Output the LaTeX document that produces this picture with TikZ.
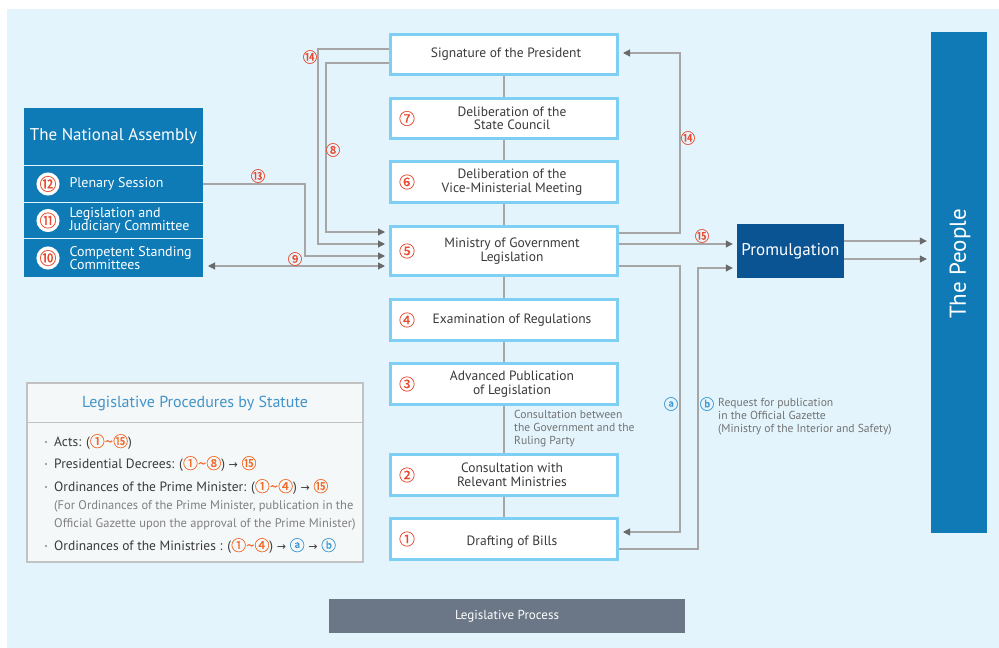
\documentclass[tikz,border=0pt]{standalone}
\usepackage{fontspec}
\setmainfont{PT Sans}
\newfontfamily\circfont[FakeBold=0.3]{Noto Sans CJK KR}
\newfontfamily\symfont{DejaVu Sans}
\usetikzlibrary{arrows.meta}
\definecolor{bgblue}{HTML}{E3F4FC}
\definecolor{boxline}{HTML}{7DCFF3}
\definecolor{textgray}{HTML}{3A3A3A}
\definecolor{numred}{HTML}{E84A2F}
\definecolor{orng}{HTML}{F26B2A}
\definecolor{linkgray}{HTML}{A6A6A6}
\definecolor{tipgray}{HTML}{6A6A6A}
\definecolor{nablue}{HTML}{0E7BB7}
\definecolor{promblue}{HTML}{0B5494}
\definecolor{peopleblue}{HTML}{0F7AB6}
\definecolor{legline}{HTML}{C2C2C2}
\definecolor{legfill}{HTML}{F5F8F9}
\definecolor{leghead}{HTML}{4194CA}
\definecolor{abblue}{HTML}{3D97CE}
\definecolor{barslate}{HTML}{6B7787}
\newcommand{\cnum}[1]{{\circfont\fontsize{15}{14}\selectfont #1}}
\newcommand{\toarr}{{\symfont\fontsize{11}{11}\selectfont →}}
\tikzset{
  stepbox/.style={draw=boxline, line width=3pt, fill=white, minimum width=227pt, inner sep=0pt},
  steptext/.style={font=\fontsize{13.5}{13.5}\selectfont, align=center, text=textgray},
  stepnum/.style={font=\circfont\fontsize{16}{16}\selectfont, text=numred},
  link/.style={draw=linkgray, line width=1.1pt},
  linkarr/.style={link, -{Triangle[length=7pt,width=7pt,color=tipgray]}, shorten >=4pt},
  linkboth/.style={link, {Triangle[length=7pt,width=7pt,color=tipgray]}-{Triangle[length=7pt,width=7pt,color=tipgray]}, shorten >=4pt, shorten <=5pt},
  flowlabel/.style={font=\circfont\fontsize{14.5}{14.5}\selectfont, text=numred, inner sep=0pt},
  narow/.style={fill=nablue, minimum width=179pt, inner sep=0pt, outer sep=0pt},
  nacirc/.style={circle, fill=white, inner sep=0pt, minimum size=18pt, text=numred, font=\circfont\fontsize{17}{17}\selectfont},
  natext/.style={anchor=west, text=white, align=left, font=\fontsize{14}{13.5}\selectfont},
  legtext/.style={anchor=west, text=textgray, inner sep=0pt, font=\fontsize{13.5}{14}\selectfont},
  legnote/.style={anchor=west, text=gray, inner sep=0pt, font=\fontsize{12.5}{13}\selectfont},
  legbullet/.style={fill=gray!70, minimum size=2.5pt, inner sep=0pt},
  sidenote/.style={anchor=west, text=gray!90!black, align=left, inner sep=0pt, font=\fontsize{11.6}{13}\selectfont}
}
\begin{document}
\begin{tikzpicture}[x=1pt,y=-1pt]
  \useasboundingbox (0,0) rectangle (999,648);
  \fill[bgblue] (7,9) rectangle (999,648);

  % process boxes
  \node[stepbox, minimum height=40pt] (sig) at (504,54.5) {};
  \node[stepbox, minimum height=40pt] (b7) at (504,118.5) {};
  \node[stepbox, minimum height=41pt] (b6) at (504,182) {};
  \node[stepbox, minimum height=49pt] (b5) at (504,251) {};
  \node[stepbox, minimum height=41pt] (b4) at (504,320) {};
  \node[stepbox, minimum height=41pt] (b3) at (504,384) {};
  \node[stepbox, minimum height=41pt] (b2) at (504,475) {};
  \node[stepbox, minimum height=41pt] (b1) at (504,539) {};
  \foreach \a/\b in {sig/b7,b7/b6,b6/b5,b5/b4,b4/b3,b3/b2,b2/b1}
    \draw[link] (\a.south) -- (\b.north);

  \node[steptext] (tsig) at (506,54.5) {Signature of the President};
  \node[steptext] (t7) at (512,118.5) {Deliberation of the\\State Council};
  \node[steptext] (t6) at (512,182) {Deliberation of the\\Vice-Ministerial Meeting};
  \node[steptext] (t5) at (512,251) {Ministry of Government\\Legislation};
  \node[steptext] (t4) at (512,320) {Examination of Regulations};
  \node[steptext] (t3) at (512,384) {Advanced Publication\\of Legislation};
  \node[steptext] (t2) at (512,475) {Consultation with\\Relevant Ministries};
  \node[steptext] (t1) at (512,542) {Drafting of Bills};
  \node[stepnum] (n7) at (407,118.5) {⑦};
  \node[stepnum] (n6) at (407,182) {⑥};
  \node[stepnum] (n5) at (407,251) {⑤};
  \node[stepnum] (n4) at (407,320) {④};
  \node[stepnum] (n3) at (407,384) {③};
  \node[stepnum] (n2) at (407,475) {②};
  \node[stepnum] (n1) at (407,539) {①};

  \node[sidenote] (govparty) at (514,429) {Consultation between\\the Government and the\\Ruling Party};

  % the national assembly
  \node[narow, minimum height=57pt, text=white, font=\fontsize{17}{17}\selectfont] (na) at (113.5,136.5) {The National Assembly};
  \node[narow, minimum height=36pt] (plen) at (113.5,184) {};
  \node[narow, minimum height=35pt] (legis) at (113.5,220.5) {};
  \node[narow, minimum height=38pt] (comp) at (113.5,258) {};
  \node[nacirc] (c12) at (48,184) {⑫};
  \node[nacirc] (c11) at (48,220.5) {⑪};
  \node[nacirc] (c10) at (48,258) {⑩};
  \node[natext] (tplen) at (66,184) {Plenary Session};
  \node[natext] (tlegis) at (66,220.5) {Legislation and\\Judiciary Committee};
  \node[natext] (tcomp) at (66,258) {Competent Standing\\Committees};

  % promulgation and the people
  \node[fill=promblue, minimum width=107pt, minimum height=54pt, inner sep=0pt, text=white, font=\fontsize{17}{17}\selectfont] (prom) at (790.5,251) {Promulgation};
  \node[fill=peopleblue, minimum width=56pt, minimum height=501pt, inner sep=0pt] (people) at (959,282.5) {};
  \node[rotate=90, text=white, font=\fontsize{23}{23}\selectfont] (tpeople) at (960,264) {The People};

  % connectors, left
  \coordinate (l14) at (318,49);
  \coordinate (l8) at (326,63);
  \coordinate (l13) at (305,184);
  \draw[linkarr] (sig.west |- l14) -- (l14) |- (b5.west |- 0,244);
  \draw[linkarr] (sig.west |- l8) -- (l8) |- (b5.west |- 0,232);
  \draw[linkarr] (plen.east |- l13) -- (l13) |- (b5.west |- 0,256);
  \draw[linkboth] (comp.east |- 0,266) -- (b5.west |- 0,266);
  \node[flowlabel] (f14l) at (310,57) {⑭};
  \node[flowlabel] (f8) at (333,150) {⑧};
  \node[flowlabel] (f13) at (258,176) {⑬};
  \node[flowlabel] (f9) at (295,259) {⑨};

  % connectors, right
  \coordinate (r14) at (680,53);
  \coordinate (ra) at (680,266);
  \coordinate (rb) at (698,549);
  \draw[linkarr] (b5.east |- 0,233) -| (r14) -- (sig.east |- r14);
  \draw[linkarr] (b5.east |- 0,244) -- (prom.west |- 0,244);
  \draw[linkarr] (b5.east |- ra) -- (ra) |- (b1.east |- 0,532);
  \draw[linkarr] (b1.east |- rb) -- (rb) |- (prom.west |- 0,268);
  \draw[linkarr] (prom.east |- 0,241) -- (people.west |- 0,241);
  \draw[linkarr] (prom.east |- 0,259) -- (people.west |- 0,259);
  \node[flowlabel] (f14r) at (688,138) {⑭};
  \node[flowlabel] (f15) at (702,236) {⑮};
  \node[flowlabel, text=abblue] (fa) at (671,404) {ⓐ};
  \node[flowlabel, text=abblue] (fb) at (707,404) {ⓑ};
  \node[sidenote, anchor=north west] (request) at (718,398) {Request for publication\\in the Official Gazette\\(Ministry of the Interior and Safety)};

  % legend
  \node[draw=legline, line width=2pt, fill=legfill, minimum width=336pt, minimum height=179pt, inner sep=0pt] (legend) at (195,472.5) {};
  \draw[legline, line width=1pt] (legend.west |- 0,422) -- (legend.east |- 0,422);
  \node[text=leghead, font=\fontsize{16}{16}\selectfont] (leghd) at (195,403) {Legislative Procedures by Statute};
  \foreach \y in {442,464,487,546}
    \node[legbullet] at (46,\y) {};
  \node[legtext] (lact) at (54,442) {Acts: ({\color{orng}\cnum{①\textasciitilde⑮}})};
  \node[legtext] (lpres) at (54,464) {Presidential Decrees: ({\color{orng}\cnum{①\textasciitilde⑧}}) \toarr{} {\color{orng}\cnum{⑮}}};
  \node[legtext] (lprime) at (54,487) {Ordinances of the Prime Minister: ({\color{orng}\cnum{①\textasciitilde④}}) \toarr{} {\color{orng}\cnum{⑮}}};
  \node[legnote] (lnote1) at (54,506) {(For Ordinances of the Prime Minister, publication in the};
  \node[legnote] (lnote2) at (54,524) {Official Gazette upon the approval of the Prime Minister)};
  \node[legtext] (lmin) at (54,546) {Ordinances of the Ministries : ({\color{orng}\cnum{①\textasciitilde④}}) \toarr{} {\color{abblue}\cnum{ⓐ}} \toarr{} {\color{abblue}\cnum{ⓑ}}};

  % caption bar
  \node[fill=barslate, minimum width=356pt, minimum height=34pt, inner sep=0pt, text=white, font=\fontsize{13}{13}\selectfont] (caption) at (507,616) {Legislative Process};
\end{tikzpicture}
\end{document}
